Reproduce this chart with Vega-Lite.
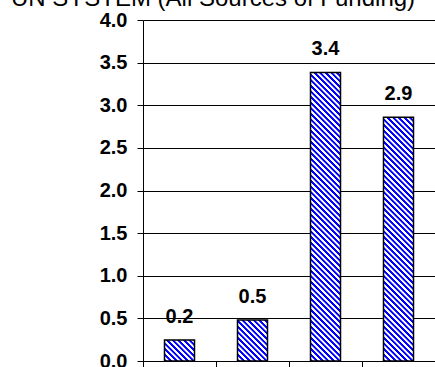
{
  "$schema": "https://vega.github.io/schema/vega-lite/v6.json",
  "autosize": {"type": "none"},
  "width": 292,
  "height": 341,
  "padding": {"left": 143, "top": 20, "right": 0, "bottom": 6},
  "background": "white",
  "params": [
    {
      "name": "hatch",
      "expr": "[{offset:0,color:'#00f'},{offset:0.004,color:'#00f'},{offset:0.005,color:'#fff'},{offset:0.009,color:'#fff'},{offset:0.01,color:'#00f'},{offset:0.014,color:'#00f'},{offset:0.015,color:'#fff'},{offset:0.019,color:'#fff'},{offset:0.02,color:'#00f'},{offset:0.024,color:'#00f'},{offset:0.025,color:'#fff'},{offset:0.029,color:'#fff'},{offset:0.03,color:'#00f'},{offset:0.034,color:'#00f'},{offset:0.035,color:'#fff'},{offset:0.039,color:'#fff'},{offset:0.04,color:'#00f'},{offset:0.044,color:'#00f'},{offset:0.045,color:'#fff'},{offset:0.049,color:'#fff'},{offset:0.05,color:'#00f'},{offset:0.054,color:'#00f'},{offset:0.055,color:'#fff'},{offset:0.059,color:'#fff'},{offset:0.06,color:'#00f'},{offset:0.064,color:'#00f'},{offset:0.065,color:'#fff'},{offset:0.069,color:'#fff'},{offset:0.07,color:'#00f'},{offset:0.074,color:'#00f'},{offset:0.075,color:'#fff'},{offset:0.079,color:'#fff'},{offset:0.08,color:'#00f'},{offset:0.084,color:'#00f'},{offset:0.085,color:'#fff'},{offset:0.089,color:'#fff'},{offset:0.09,color:'#00f'},{offset:0.094,color:'#00f'},{offset:0.095,color:'#fff'},{offset:0.099,color:'#fff'},{offset:0.1,color:'#00f'},{offset:0.104,color:'#00f'},{offset:0.105,color:'#fff'},{offset:0.109,color:'#fff'},{offset:0.11,color:'#00f'},{offset:0.114,color:'#00f'},{offset:0.115,color:'#fff'},{offset:0.119,color:'#fff'},{offset:0.12,color:'#00f'},{offset:0.124,color:'#00f'},{offset:0.125,color:'#fff'},{offset:0.129,color:'#fff'},{offset:0.13,color:'#00f'},{offset:0.134,color:'#00f'},{offset:0.135,color:'#fff'},{offset:0.139,color:'#fff'},{offset:0.14,color:'#00f'},{offset:0.144,color:'#00f'},{offset:0.145,color:'#fff'},{offset:0.149,color:'#fff'},{offset:0.15,color:'#00f'},{offset:0.154,color:'#00f'},{offset:0.155,color:'#fff'},{offset:0.159,color:'#fff'},{offset:0.16,color:'#00f'},{offset:0.164,color:'#00f'},{offset:0.165,color:'#fff'},{offset:0.169,color:'#fff'},{offset:0.17,color:'#00f'},{offset:0.174,color:'#00f'},{offset:0.175,color:'#fff'},{offset:0.179,color:'#fff'},{offset:0.18,color:'#00f'},{offset:0.184,color:'#00f'},{offset:0.185,color:'#fff'},{offset:0.189,color:'#fff'},{offset:0.19,color:'#00f'},{offset:0.194,color:'#00f'},{offset:0.195,color:'#fff'},{offset:0.199,color:'#fff'},{offset:0.2,color:'#00f'},{offset:0.204,color:'#00f'},{offset:0.205,color:'#fff'},{offset:0.209,color:'#fff'},{offset:0.21,color:'#00f'},{offset:0.214,color:'#00f'},{offset:0.215,color:'#fff'},{offset:0.219,color:'#fff'},{offset:0.22,color:'#00f'},{offset:0.224,color:'#00f'},{offset:0.225,color:'#fff'},{offset:0.229,color:'#fff'},{offset:0.23,color:'#00f'},{offset:0.234,color:'#00f'},{offset:0.235,color:'#fff'},{offset:0.239,color:'#fff'},{offset:0.24,color:'#00f'},{offset:0.244,color:'#00f'},{offset:0.245,color:'#fff'},{offset:0.249,color:'#fff'},{offset:0.25,color:'#00f'},{offset:0.254,color:'#00f'},{offset:0.255,color:'#fff'},{offset:0.259,color:'#fff'},{offset:0.26,color:'#00f'},{offset:0.264,color:'#00f'},{offset:0.265,color:'#fff'},{offset:0.269,color:'#fff'},{offset:0.27,color:'#00f'},{offset:0.274,color:'#00f'},{offset:0.275,color:'#fff'},{offset:0.279,color:'#fff'},{offset:0.28,color:'#00f'},{offset:0.284,color:'#00f'},{offset:0.285,color:'#fff'},{offset:0.289,color:'#fff'},{offset:0.29,color:'#00f'},{offset:0.294,color:'#00f'},{offset:0.295,color:'#fff'},{offset:0.299,color:'#fff'},{offset:0.3,color:'#00f'},{offset:0.304,color:'#00f'},{offset:0.305,color:'#fff'},{offset:0.309,color:'#fff'},{offset:0.31,color:'#00f'},{offset:0.314,color:'#00f'},{offset:0.315,color:'#fff'},{offset:0.319,color:'#fff'},{offset:0.32,color:'#00f'},{offset:0.324,color:'#00f'},{offset:0.325,color:'#fff'},{offset:0.329,color:'#fff'},{offset:0.33,color:'#00f'},{offset:0.334,color:'#00f'},{offset:0.335,color:'#fff'},{offset:0.339,color:'#fff'},{offset:0.34,color:'#00f'},{offset:0.344,color:'#00f'},{offset:0.345,color:'#fff'},{offset:0.349,color:'#fff'},{offset:0.35,color:'#00f'},{offset:0.354,color:'#00f'},{offset:0.355,color:'#fff'},{offset:0.359,color:'#fff'},{offset:0.36,color:'#00f'},{offset:0.364,color:'#00f'},{offset:0.365,color:'#fff'},{offset:0.369,color:'#fff'},{offset:0.37,color:'#00f'},{offset:0.374,color:'#00f'},{offset:0.375,color:'#fff'},{offset:0.379,color:'#fff'},{offset:0.38,color:'#00f'},{offset:0.384,color:'#00f'},{offset:0.385,color:'#fff'},{offset:0.389,color:'#fff'},{offset:0.39,color:'#00f'},{offset:0.394,color:'#00f'},{offset:0.395,color:'#fff'},{offset:0.399,color:'#fff'},{offset:0.4,color:'#00f'},{offset:0.404,color:'#00f'},{offset:0.405,color:'#fff'},{offset:0.409,color:'#fff'},{offset:0.41,color:'#00f'},{offset:0.414,color:'#00f'},{offset:0.415,color:'#fff'},{offset:0.419,color:'#fff'},{offset:0.42,color:'#00f'},{offset:0.424,color:'#00f'},{offset:0.425,color:'#fff'},{offset:0.429,color:'#fff'},{offset:0.43,color:'#00f'},{offset:0.434,color:'#00f'},{offset:0.435,color:'#fff'},{offset:0.439,color:'#fff'},{offset:0.44,color:'#00f'},{offset:0.444,color:'#00f'},{offset:0.445,color:'#fff'},{offset:0.449,color:'#fff'},{offset:0.45,color:'#00f'},{offset:0.454,color:'#00f'},{offset:0.455,color:'#fff'},{offset:0.459,color:'#fff'},{offset:0.46,color:'#00f'},{offset:0.464,color:'#00f'},{offset:0.465,color:'#fff'},{offset:0.469,color:'#fff'},{offset:0.47,color:'#00f'},{offset:0.474,color:'#00f'},{offset:0.475,color:'#fff'},{offset:0.479,color:'#fff'},{offset:0.48,color:'#00f'},{offset:0.484,color:'#00f'},{offset:0.485,color:'#fff'},{offset:0.489,color:'#fff'},{offset:0.49,color:'#00f'},{offset:0.494,color:'#00f'},{offset:0.495,color:'#fff'},{offset:0.499,color:'#fff'},{offset:0.5,color:'#00f'},{offset:0.504,color:'#00f'},{offset:0.505,color:'#fff'},{offset:0.509,color:'#fff'},{offset:0.51,color:'#00f'},{offset:0.514,color:'#00f'},{offset:0.515,color:'#fff'},{offset:0.519,color:'#fff'},{offset:0.52,color:'#00f'},{offset:0.524,color:'#00f'},{offset:0.525,color:'#fff'},{offset:0.529,color:'#fff'},{offset:0.53,color:'#00f'},{offset:0.534,color:'#00f'},{offset:0.535,color:'#fff'},{offset:0.539,color:'#fff'},{offset:0.54,color:'#00f'},{offset:0.544,color:'#00f'},{offset:0.545,color:'#fff'},{offset:0.549,color:'#fff'},{offset:0.55,color:'#00f'},{offset:0.554,color:'#00f'},{offset:0.555,color:'#fff'},{offset:0.559,color:'#fff'},{offset:0.56,color:'#00f'},{offset:0.564,color:'#00f'},{offset:0.565,color:'#fff'},{offset:0.569,color:'#fff'},{offset:0.57,color:'#00f'},{offset:0.574,color:'#00f'},{offset:0.575,color:'#fff'},{offset:0.579,color:'#fff'},{offset:0.58,color:'#00f'}]"
    }
  ],
  "title": {
    "text": "UN SYSTEM (All Sources of Funding)",
    "font": "Liberation Sans",
    "fontSize": 24,
    "fontWeight": "normal",
    "color": "black",
    "anchor": "middle",
    "frame": "group",
    "baseline": "alphabetic",
    "offset": 0,
    "dx": -76,
    "dy": 20
  },
  "data": {
    "values": [
      {"category": "A", "value": 0.245},
      {"category": "B", "value": 0.48},
      {"category": "C", "value": 3.385},
      {"category": "D", "value": 2.86}
    ]
  },
  "encoding": {
    "x": {
      "field": "category",
      "type": "nominal",
      "sort": null,
      "scale": {"paddingInner": 0, "paddingOuter": 0},
      "axis": {
        "title": null,
        "labels": false,
        "bandPosition": 0,
        "ticks": true,
        "tickSize": 10,
        "tickColor": "black",
        "tickWidth": 1,
        "domainColor": "black",
        "domainWidth": 1,
        "grid": false
      }
    },
    "y": {
      "field": "value",
      "type": "quantitative",
      "scale": {"domain": [0, 4], "nice": false},
      "axis": {
        "title": null,
        "values": [0, 0.5, 1, 1.5, 2, 2.5, 3, 3.5, 4],
        "format": ".1f",
        "labelFont": "Liberation Sans",
        "labelFontSize": 20,
        "labelFontWeight": "bold",
        "labelColor": "black",
        "labelPadding": 10,
        "tickSize": 6,
        "tickColor": "black",
        "tickWidth": 1,
        "domainColor": "black",
        "domainWidth": 1,
        "grid": true,
        "gridColor": "black",
        "gridOpacity": 1,
        "gridWidth": 1
      }
    }
  },
  "layer": [
    {
      "mark": {"type": "bar", "size": 30, "stroke": "black", "strokeWidth": 1.5},
      "encoding": {
        "fill": {"value": {"expr": "{gradient:'linear',x1:0,y1:1,x2:16800/(900+pow(datum.value*85.25,2)),y2:1-560*datum.value*85.25/(900+pow(datum.value*85.25,2)),stops:hatch}"}}
      }
    },
    {
      "mark": {
        "type": "text",
        "font": "Liberation Sans",
        "fontSize": 20,
        "fontWeight": "bold",
        "color": "black",
        "baseline": "alphabetic",
        "dy": -17
      },
      "encoding": {
        "text": {"field": "value", "type": "quantitative", "format": ".1f"}
      }
    }
  ],
  "config": {"view": {"stroke": null}}
}
